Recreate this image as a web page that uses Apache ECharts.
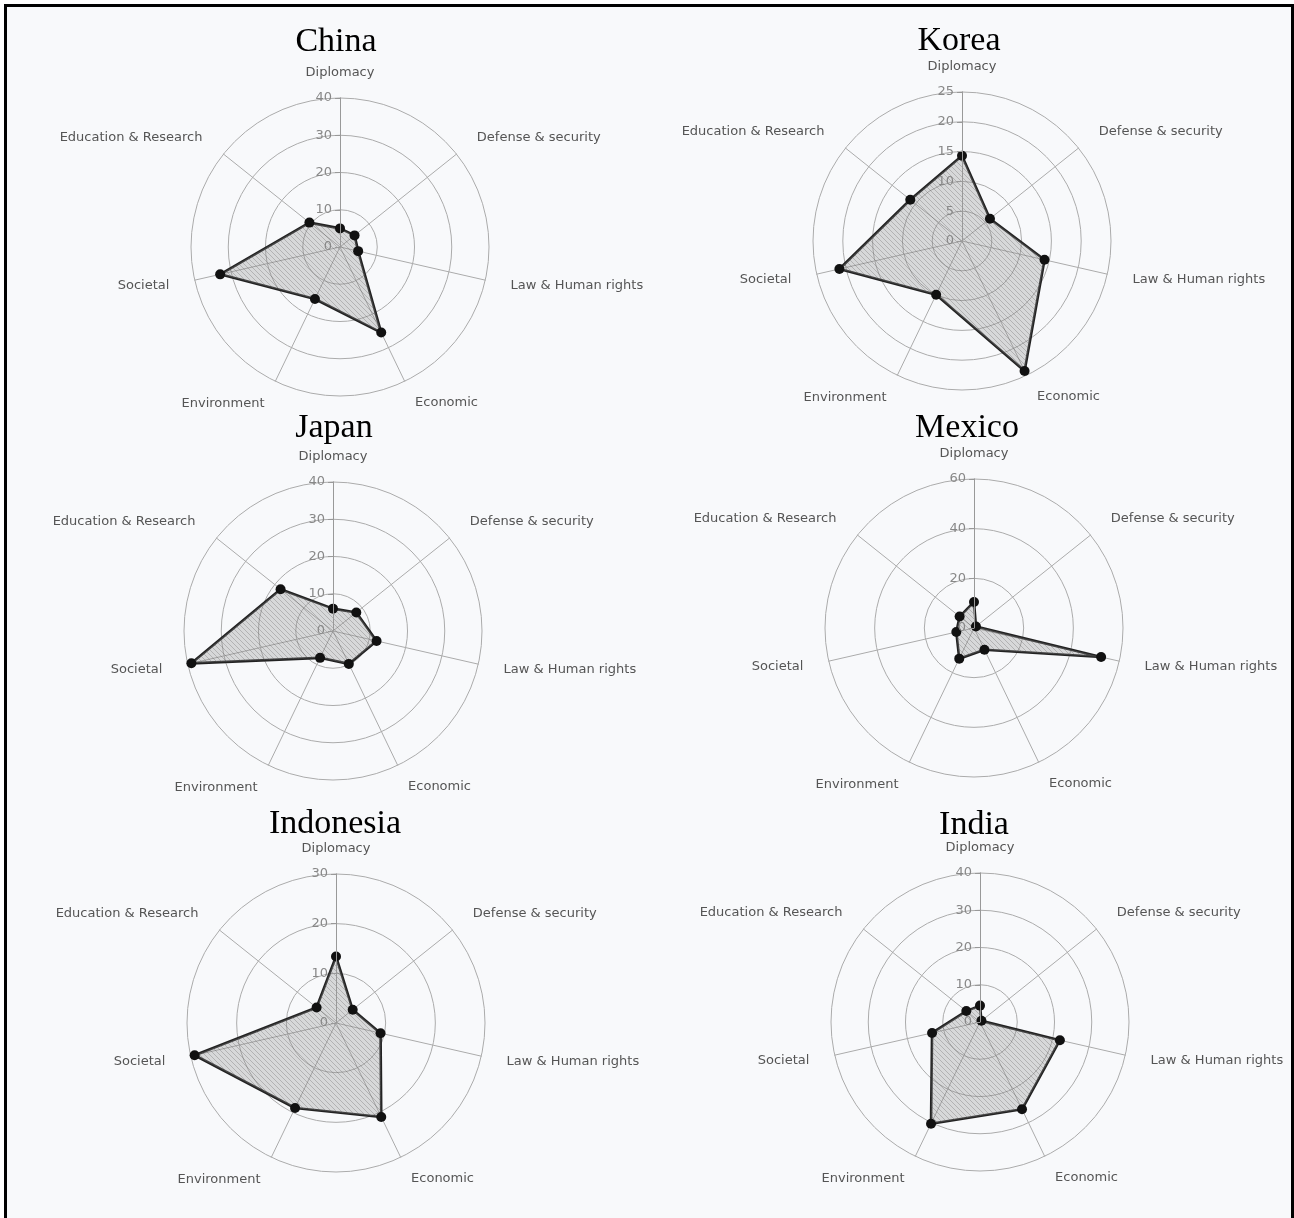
<!DOCTYPE html>
<html>
<head>
<meta charset="utf-8">
<script src="https://cdn.jsdelivr.net/npm/echarts@6/dist/echarts.min.js"></script>
<style>
html, body { margin: 0; padding: 0; background: #fff; overflow: hidden; }
#frame { position: absolute; left: 4px; top: 4px; width: 1290px; height: 1240px; border: 3px solid #000; box-sizing: border-box; background: #f8f9fb; }
#chart { position: absolute; left: 0; top: 0; width: 1294px; height: 1218px; }
</style>
</head>
<body>
<div id="frame"></div>
<div id="chart"></div>
<script>
// categories, clockwise from the top
const categories = ['Diplomacy', 'Defense & security', 'Law & Human rights', 'Economic', 'Environment', 'Societal', 'Education & Research'];
const countries = ['China', 'Korea', 'Japan', 'Mexico', 'Indonesia', 'India'];

// values per country (same order as categories)
const china     = [5, 5, 5, 25.5, 15.5, 33, 10.5];
const korea     = [14.3, 6, 14.2, 24.2, 10, 21.1, 11.1];
const japan     = [6, 8, 12, 9.8, 8, 39, 18];
const mexico    = [10.5, 1, 52.5, 9.7, 13.7, 7.3, 7.4];
const indonesia = [13.4, 4.3, 9.2, 21, 19, 29.2, 5];
const india     = [4.4, 0.5, 22, 26, 30.3, 13.2, 4.7];

// radial axis max and number of rings per chart
const axisMax   = [40, 25, 40, 60, 30, 40];
const axisSplit = [4, 5, 4, 3, 3, 4];

const allValues = [china, korea, japan, mexico, indonesia, india];

// where each panel sits
const centers = [[340, 247], [962, 241], [333, 631], [974, 628], [336, 1023], [980, 1022]];
const titlePos = [[336, 42], [959, 41], [334, 428], [967, 428], [335, 824], [974, 825]];
// distance of each category name from the outer ring
const nameGaps = [19, 26, 26, 24, 25, 26, 27];

// echarts places indicators counter-clockwise, so flip the order
const order = [0, 6, 5, 4, 3, 2, 1];

/* 斜线填充 */
function makeHatch() {
    const c = document.createElement('canvas');
    c.width = 5; c.height = 5;
    const ctx = c.getContext('2d');
    ctx.fillStyle = 'rgba(140,140,140,0.3)';
    ctx.fillRect(0, 0, 5, 5);
    ctx.strokeStyle = 'rgba(90,90,90,0.3)';
    ctx.lineWidth = 1;
    ctx.beginPath();
    ctx.moveTo(-1, -1); ctx.lineTo(6, 6);
    ctx.moveTo(-1, 4); ctx.lineTo(1, 6);
    ctx.moveTo(4, -1); ctx.lineTo(6, 1);
    ctx.stroke();
    return c;
}
const hatch = makeHatch();

let myChart = echarts.init(document.getElementById('chart'));

let radars = [];
let polars = [];
let angleAxes = [];
let radiusAxes = [];
let series = [];
countries.forEach((name, i) => {
    radars.push({
        center: centers[i],
        radius: 149,
        shape: 'circle',
        startAngle: 90,
        splitNumber: axisSplit[i],
        nameGap: 24,
        axisName: { color: '#555', fontSize: 13, fontFamily: 'DejaVu Sans' },
        axisLine: { lineStyle: { color: '#ababab', width: 1 } },
        splitLine: { lineStyle: { color: '#ababab', width: 1 } },
        splitArea: { show: false },
        axisTick: { show: false },
        axisLabel: { show: false },
        indicator: order.map(k => ({ name: categories[k], min: 0, max: axisMax[i], nameGap: nameGaps[k] }))
    });
    // polar overlay only carries the radial tick labels on the Diplomacy spoke
    polars.push({ center: centers[i], radius: 149 });
    angleAxes.push({
        polarIndex: i, type: 'value', startAngle: 90, min: 0, max: 360,
        axisLine: { show: false }, axisTick: { show: false }, axisLabel: { show: false }, splitLine: { show: false }
    });
    radiusAxes.push({
        polarIndex: i, type: 'value', z: 10, min: 0, max: axisMax[i], interval: axisMax[i] / axisSplit[i],
        axisLine: { show: true, lineStyle: { color: '#999', width: 1 } },
        axisTick: { show: true, length: 5, lineStyle: { color: '#999' } },
        axisLabel: { show: true, color: '#888', fontSize: 13, fontFamily: 'DejaVu Sans', margin: 8, showMinLabel: true, showMaxLabel: true },
        splitLine: { show: false }
    });
    series.push({
        type: 'radar',
        radarIndex: i,
        symbol: 'circle',
        symbolSize: 10,
        lineStyle: { color: '#222', width: 2.6 },
        itemStyle: { color: '#111' },
        areaStyle: { color: { image: hatch, repeat: 'repeat' }, opacity: 1 },
        data: [{ name: name, value: order.map(k => allValues[i][k]) }]
    });
});

myChart.setOption({
    backgroundColor: 'transparent',
    animation: false,
    radar: radars,
    polar: polars,
    angleAxis: angleAxes,
    radiusAxis: radiusAxes,
    series: series,
    graphic: countries.map((name, i) => ({
        type: 'text',
        x: titlePos[i][0],
        y: titlePos[i][1],
        style: {
            text: name,
            fill: '#000',
            fontSize: 34,
            fontFamily: 'Liberation Serif',
            align: 'center',
            verticalAlign: 'middle'
        }
    }))
});

window.addEventListener('resize', function () {
    myChart.resize();
});
</script>
</body>
</html>
